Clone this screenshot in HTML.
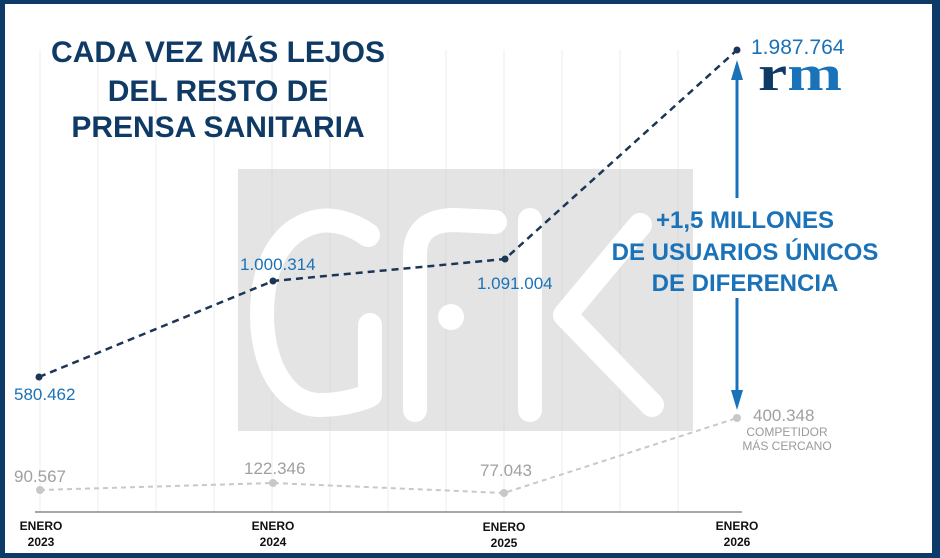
<!DOCTYPE html>
<html><head><meta charset="utf-8"><style>
html,body{margin:0;padding:0;background:#fff}
body{width:940px;height:558px;overflow:hidden;position:relative;font-family:"Liberation Sans",sans-serif}
</style></head><body>
<svg width="940" height="558" viewBox="0 0 940 558" xmlns="http://www.w3.org/2000/svg" style="position:absolute;left:0;top:0">
<rect x="0" y="0" width="940" height="558" fill="#0d3a66"/>
<rect x="5" y="4" width="927" height="549" fill="#fff"/>
<g stroke="#eeeeee" stroke-width="1">
<line x1="40" y1="50" x2="40" y2="512"/><line x1="98" y1="50" x2="98" y2="512"/><line x1="156" y1="50" x2="156" y2="512"/><line x1="214" y1="50" x2="214" y2="512"/><line x1="272" y1="50" x2="272" y2="512"/><line x1="330" y1="50" x2="330" y2="512"/><line x1="388" y1="50" x2="388" y2="512"/><line x1="446" y1="50" x2="446" y2="512"/><line x1="504" y1="50" x2="504" y2="512"/><line x1="562" y1="50" x2="562" y2="512"/><line x1="620" y1="50" x2="620" y2="512"/><line x1="678" y1="50" x2="678" y2="512"/>
</g>
<rect x="238" y="169" width="455" height="262" fill="#e4e4e4"/>
<g stroke="#dadada" stroke-width="1">
<line x1="272" y1="169" x2="272" y2="431"/><line x1="330" y1="169" x2="330" y2="431"/><line x1="388" y1="169" x2="388" y2="431"/><line x1="446" y1="169" x2="446" y2="431"/><line x1="504" y1="169" x2="504" y2="431"/><line x1="562" y1="169" x2="562" y2="431"/><line x1="620" y1="169" x2="620" y2="431"/><line x1="678" y1="169" x2="678" y2="431"/>
</g>
<g fill="none" stroke="#fff" stroke-width="24" stroke-linecap="round" stroke-linejoin="round">
<path d="M368 235 C350 222 330 218 315 222 C275 232 262 275 262 315 C262 365 285 405 320 405 C350 405 370 395 370 395 L370 325"/>
<path d="M415 410 L415 255 C415 230 430 220 455 220 L495 222"/>
<line x1="530" y1="220" x2="530" y2="410"/>
<path d="M640 225 L565 315 L652 405"/>
</g>
<circle cx="451" cy="317" r="13" fill="#fff"/>
<line x1="35" y1="512" x2="742" y2="512" stroke="#8a8a8a" stroke-width="1.5"/>
<polyline points="40,490 273,483 504,493 737,418" fill="none" stroke="#c8c8c8" stroke-width="2" stroke-dasharray="5,4"/>
<g fill="#c8c8c8"><circle cx="40" cy="490" r="4"/><circle cx="273" cy="483" r="4"/><circle cx="504" cy="493" r="4"/><circle cx="737" cy="418" r="4"/></g>
<polyline points="39,377 273,281 505,259 737,50" fill="none" stroke="#1b3656" stroke-width="2.5" stroke-dasharray="7,5"/>
<g fill="#1b3656"><circle cx="39" cy="377" r="3.5"/><circle cx="273" cy="281" r="3.5"/><circle cx="505" cy="259" r="3.5"/><circle cx="737" cy="50" r="3.5"/></g>
<line x1="737" y1="75" x2="737" y2="198" stroke="#1a72b8" stroke-width="3"/>
<polygon points="737,60 731,80 743,80" fill="#1a72b8"/>
<line x1="737" y1="298" x2="737" y2="395" stroke="#1a72b8" stroke-width="3"/>
<polygon points="737,410 731,390 743,390" fill="#1a72b8"/>
<g font-family="Liberation Sans, sans-serif" font-weight="bold" fill="#0f3a65" font-size="30" text-anchor="middle">
<text x="218" y="62">CADA VEZ MÁS LEJOS</text>
<text x="218" y="101">DEL RESTO DE</text>
<text x="218" y="137">PRENSA SANITARIA</text>
</g>
<g font-family="Liberation Sans, sans-serif" fill="#1a72b8" font-size="17">
<text x="14" y="400">580.462</text>
<text x="240" y="270">1.000.314</text>
<text x="477" y="289">1.091.004</text>
<text x="751" y="54" font-size="21">1.987.764</text>
</g>
<text x="758" y="90" font-family="Liberation Serif, serif" font-weight="bold" font-size="50" fill="#0f3a65" textLength="84" lengthAdjust="spacingAndGlyphs">r<tspan fill="#1a72b8">m</tspan></text>
<g font-family="Liberation Sans, sans-serif" fill="#1a72b8" font-size="24" font-weight="bold" text-anchor="middle">
<text x="745" y="228">+1,5 MILLONES</text>
<text x="745" y="260">DE USUARIOS ÚNICOS</text>
<text x="745" y="291">DE DIFERENCIA</text>
</g>
<g font-family="Liberation Sans, sans-serif" fill="#a0a0a0" font-size="17">
<text x="14" y="482">90.567</text>
<text x="244" y="474">122.346</text>
<text x="480" y="476">77.043</text>
<text x="753" y="421">400.348</text>
</g>
<g font-family="Liberation Sans, sans-serif" fill="#9a9a9a" font-size="12" text-anchor="middle">
<text x="787" y="436">COMPETIDOR</text>
<text x="787" y="450">MÁS CERCANO</text>
</g>
<g font-family="Liberation Sans, sans-serif" fill="#111" font-size="12" font-weight="bold" text-anchor="middle">
<text x="41" y="530">ENERO</text><text x="41" y="546">2023</text>
<text x="273" y="530">ENERO</text><text x="273" y="546">2024</text>
<text x="504" y="531">ENERO</text><text x="504" y="547">2025</text>
<text x="737" y="530">ENERO</text><text x="737" y="546">2026</text>
</g>
</svg>
</body></html>
